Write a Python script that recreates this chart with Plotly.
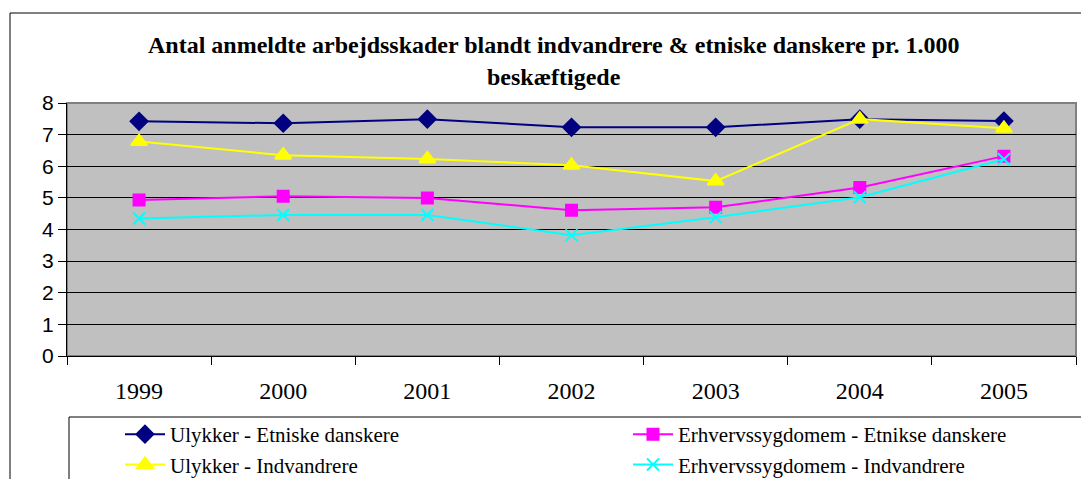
import plotly.graph_objects as go

years = ["1999", "2000", "2001", "2002", "2003", "2004", "2005"]

ulykker_etn = [7.42, 7.36, 7.49, 7.23, 7.23, 7.49, 7.43]
erhverv_etn = [4.93, 5.05, 5.00, 4.61, 4.70, 5.33, 6.32]
ulykker_ind = [6.78, 6.35, 6.23, 6.03, 5.53, 7.49, 7.20]
erhverv_ind = [4.35, 4.46, 4.46, 3.82, 4.39, 5.02, 6.22]

title_1 = "Antal anmeldte arbejdsskader blandt indvandrere & etniske danskere pr. 1.000"
title_2 = "beskæftigede"

W, H = 1081, 479
L, R, T, B = 67, 5, 103, 123
PW, PH = W - L - R, H - T - B


def px(x):
    return (x - L) / PW


def py(y):
    return (H - B - y) / PH


SERIF = "Liberation Serif"
SANS = "Liberation Sans"

fig = go.Figure()

# left legend column = Ulykker, right column = Erhvervssygdomme
series = [
    ("Ulykker - Etniske danskere", ulykker_etn, "#000080", "diamond", 13, "legend"),
    ("Ulykker - Indvandrere", ulykker_ind, "#FFFF00", "triangle-up", 14, "legend"),
    ("Erhvervssygdomem - Etnikse danskere", erhverv_etn, "#FF00FF", "square", 11, "legend2"),
    ("Erhvervssygdomem - Indvandrere", erhverv_ind, "#00FFFF", "x-thin", 12, "legend2"),
]
for name, vals, col, sym, size, leg in series:
    fig.add_trace(go.Scatter(
        x=years, y=vals, name=name, mode="lines+markers", legend=leg,
        line=dict(color=col, width=2),
        marker=dict(symbol=sym, size=size, color=col, line=dict(color=col, width=2)),
    ))

leg_style = dict(orientation="v", yanchor="top", xanchor="left",
                 font=dict(family=SERIF, size=21), bgcolor="rgba(0,0,0,0)",
                 itemwidth=40, tracegroupgap=0)

fig.update_layout(
    width=W, height=H,
    margin=dict(l=L, r=R, t=T, b=B, autoexpand=False),
    paper_bgcolor="white",
    plot_bgcolor="#C0C0C0",
    font=dict(family=SERIF, color="black", size=20),
    showlegend=True,
    legend=dict(x=px(120), y=py(414), **leg_style),
    legend2=dict(x=px(628), y=py(414), **leg_style),
)

fig.update_yaxes(
    range=[0, 8], dtick=1, showgrid=True, gridcolor="black", gridwidth=1,
    showline=True, linecolor="black", linewidth=1,
    ticks="outside", ticklen=8, tickcolor="black",
    tickfont=dict(family=SANS, size=21), zeroline=False,
)
fig.update_xaxes(
    type="category", range=[-0.5, 6.5], showgrid=False,
    showline=True, linecolor="black", linewidth=1,
    ticks="outside", tickson="boundaries", ticklen=8, tickcolor="black",
    tickfont=dict(family=SERIF, size=24), ticklabelstandoff=13,
)

# grey frame of the plot area (top/right), outer chart frame and legend frame
fig.add_shape(type="rect", xref="paper", yref="paper", x0=0, y0=0, x1=1, y1=1,
              line=dict(color="#808080", width=2), layer="below")
fig.add_shape(type="rect", xref="paper", yref="paper",
              x0=px(10), y0=py(H + 10), x1=px(W + 10), y1=py(13),
              line=dict(color="black", width=1))
fig.add_shape(type="rect", xref="paper", yref="paper",
              x0=px(69), y0=py(H + 10), x1=px(W + 10), y1=py(417),
              line=dict(color="black", width=1))

fig.add_annotation(text="<b>" + title_1 + "</b>", xref="paper", yref="paper",
                   x=px(553), y=py(45), xanchor="center", yanchor="middle",
                   showarrow=False, font=dict(family=SERIF, size=24))
fig.add_annotation(text="<b>" + title_2 + "</b>", xref="paper", yref="paper",
                   x=px(554), y=py(77), xanchor="center", yanchor="middle",
                   showarrow=False, font=dict(family=SERIF, size=24))

# drop the default 8px body margin so the figure sits at the page origin
fig.write_html("out.html", config={"displayModeBar": False},
               post_script="document.body.style.margin='0';")
